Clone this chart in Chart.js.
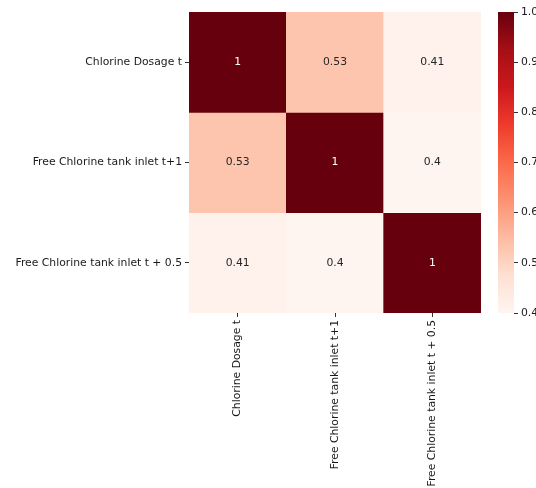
<!DOCTYPE html>
<html lang="en">
<head>
<meta charset="UTF-8">
<title>Chlorine correlation heatmap</title>
<script src="https://cdn.jsdelivr.net/npm/chart.js"></script>
<style>
  body { margin: 0; background: #fff; }
  #wrap { position: relative; width: 536px; height: 488px; overflow: hidden; }
  #heat { position: absolute; left: 0; top: 0; }
  #cbar { position: absolute; left: 480px; top: 0; }
</style>
</head>
<body>
<div id="wrap">
  <canvas id="heat" width="536" height="488"></canvas>
  <canvas id="cbar" width="56" height="488"></canvas>
</div>

<script>
// variables of the correlation matrix (same order on both axes)
const variables = ['Chlorine Dosage t', 'Free Chlorine tank inlet t+1', 'Free Chlorine tank inlet t + 0.5'];

// one row of correlations per variable
const rowChlorineDosage = [1, 0.53, 0.41];
const rowFreeChlorineT1 = [0.53, 1, 0.4];
const rowFreeChlorineT05 = [0.41, 0.4, 1];
const rows = [rowChlorineDosage, rowFreeChlorineT1, rowFreeChlorineT05];

// colour bar ticks
const colorbarTicks = [0.4, 0.5, 0.6, 0.7, 0.8, 0.9, 1.0];

const vmin = colorbarTicks[0];
const vmax = colorbarTicks[colorbarTicks.length - 1];

// "Reds" colour scale stops
const reds = ['#fff5f0', '#fee0d2', '#fcbba1', '#fc9272', '#fb6a4a', '#ef3b2c', '#cb181d', '#a50f15', '#67000d'];

function hexToRgb(h) {
    return [parseInt(h.slice(1, 3), 16), parseInt(h.slice(3, 5), 16), parseInt(h.slice(5, 7), 16)];
}

function redsRgb(v) {
    let t = (v - vmin) / (vmax - vmin);
    t = Math.max(0, Math.min(1, t));
    const pos = t * (reds.length - 1);
    const i = Math.min(Math.floor(pos), reds.length - 2);
    const f = pos - i;
    const a = hexToRgb(reds[i]), b = hexToRgb(reds[i + 1]);
    return a.map((c, k) => Math.round(c + (b[k] - c) * f));
}

function redsColor(v) {
    const c = redsRgb(v);
    return `rgb(${c[0]}, ${c[1]}, ${c[2]})`;
}

// pick dark or white text depending on the cell brightness
function textColor(v) {
    const lin = redsRgb(v).map(c => {
        c /= 255;
        return c <= 0.03928 ? c / 12.92 : Math.pow((c + 0.055) / 1.055, 2.4);
    });
    const lum = 0.2126 * lin[0] + 0.7152 * lin[1] + 0.0722 * lin[2];
    return lum > 0.408 ? '#262626' : '#ffffff';
}

Chart.defaults.font.family = "'DejaVu Sans', sans-serif";
Chart.defaults.font.size = 10.8;
Chart.defaults.color = '#1a1a1a';

// writes the value in the middle of each cell
const cellLabels = {
    id: 'cellLabels',
    afterDatasetsDraw(chart) {
        const ctx = chart.ctx;
        ctx.save();
        ctx.font = "10.8px 'DejaVu Sans', sans-serif";
        ctx.textAlign = 'center';
        ctx.textBaseline = 'middle';
        chart.data.datasets.forEach((ds, r) => {
            chart.getDatasetMeta(r).data.forEach((bar, c) => {
                const v = rows[r][c];
                ctx.fillStyle = textColor(v);
                ctx.fillText(String(v), bar.x, (bar.y + bar.base) / 2);
            });
        });
        ctx.restore();
    }
};

// each row is a dataset of floating bars spanning [r, r + 1]
const heatDatasets = rows.map((row, r) => ({
    data: row.map(() => [r, r + 1]),
    backgroundColor: row.map(v => redsColor(v)),
    borderWidth: 0,
    barPercentage: 1,
    categoryPercentage: 1,
    grouped: false
}));

new Chart(document.getElementById('heat'), {
    type: 'bar',
    data: {
        labels: variables,
        datasets: heatDatasets
    },
    options: {
        responsive: false,
        animation: false,
        layout: { padding: { left: 0, top: 12, right: 55, bottom: 0 } },
        plugins: { legend: { display: false }, tooltip: { enabled: false } },
        scales: {
            x: {
                grid: { offset: false, drawOnChartArea: false, tickLength: 4, tickColor: '#333', drawTicks: true },
                border: { display: false },
                ticks: { minRotation: 90, maxRotation: 90, padding: 3, autoSkip: false },
                afterFit(scale) { scale.height = 175; }
            },
            y: {
                min: 0,
                max: variables.length,
                reverse: true,
                grid: { drawOnChartArea: false, tickLength: 4, tickColor: '#333' },
                border: { display: false },
                ticks: {
                    padding: 3,
                    callback: (value, index) => variables[index]
                },
                afterBuildTicks(scale) {
                    scale.ticks = variables.map((_, i) => ({ value: i + 0.5 }));
                },
                afterFit(scale) { scale.width = 189; }
            }
        }
    },
    plugins: [cellLabels]
});

// colour bar: a single floating bar filled with the colour scale
new Chart(document.getElementById('cbar'), {
    type: 'bar',
    data: {
        labels: [''],
        datasets: [{
            data: [[vmin, vmax]],
            backgroundColor(context) {
                const area = context.chart.chartArea;
                if (!area) return reds[0];
                const g = context.chart.ctx.createLinearGradient(0, area.bottom, 0, area.top);
                reds.forEach((c, i) => g.addColorStop(i / (reds.length - 1), c));
                return g;
            },
            borderWidth: 0,
            barPercentage: 1,
            categoryPercentage: 1
        }]
    },
    options: {
        responsive: false,
        animation: false,
        layout: { padding: { left: 18, top: 12, right: 0, bottom: 175 } },
        plugins: { legend: { display: false }, tooltip: { enabled: false } },
        scales: {
            x: { display: false },
            y: {
                position: 'right',
                min: vmin,
                max: vmax,
                grid: { drawOnChartArea: false, tickLength: 4, tickColor: '#333' },
                border: { display: false },
                ticks: { padding: 3, callback: v => v.toFixed(1) },
                afterBuildTicks(scale) {
                    scale.ticks = colorbarTicks.map(v => ({ value: v }));
                },
                afterFit(scale) { scale.width = 22; }
            }
        }
    }
});
</script>
</body>
</html>
